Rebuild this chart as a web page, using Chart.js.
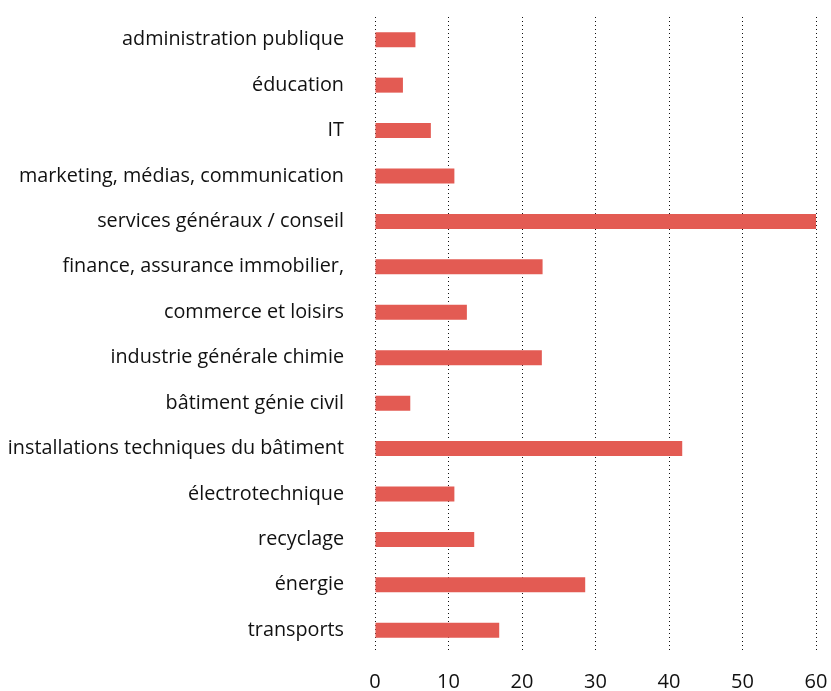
<!DOCTYPE html>
<html><head><meta charset="utf-8">
<script src="https://cdn.jsdelivr.net/npm/chart.js@4/dist/chart.umd.min.js"></script>
<style>html,body{margin:0;padding:0;background:#fff}#wrap{width:831px;height:691px}</style>
</head><body><div id="wrap"><canvas id="c"></canvas></div>
<script>
const categories = ["administration publique","éducation","IT","marketing, médias, communication","services généraux / conseil","finance, assurance immobilier,","commerce et loisirs","industrie générale chimie","bâtiment génie civil","installations techniques du bâtiment","électrotechnique","recyclage","énergie","transports"];
const values = [5.5,3.8,7.6,10.8,60,22.8,12.5,22.7,4.8,41.8,10.8,13.5,28.6,16.9];
const xTicks = [0,10,20,30,40,50,60];

new Chart(document.getElementById('c'), {
  type: 'bar',
  data: { labels: categories, datasets: [{ data: values, backgroundColor: '#e35b53', barPercentage: 0.33, categoryPercentage: 1 }] },
  options: {
    indexAxis: 'y', responsive: true, maintainAspectRatio: false, animation: false,
    layout: { padding: { top: 17, right: 0, bottom: -20, left: 0 } },
    plugins: { legend: { display: false }, tooltip: { enabled: false } },
    scales: {
      x: { min: 0, max: 60, afterBuildTicks: s => { s.ticks = xTicks.map(v => ({value: v})); },
        afterFit: s => { s.paddingRight = 15; s.paddingLeft = 0; },
        grid: { color: '#111', lineWidth: 1, drawTicks: false },
        border: { display: false, dash: [1,3] },
        ticks: { color: '#111', font: { family: 'Open Sans', size: 20, lineHeight: 1 }, padding: 19 } },
      y: { grid: { display: false, drawTicks: true, tickLength: 31 }, border: { display: false },
        afterFit: s => { s.width = 375; },
        ticks: { color: '#111', font: { family: 'Open Sans', size: 19.8 }, padding: 0 } }
    }
  }
});
</script></body></html>
